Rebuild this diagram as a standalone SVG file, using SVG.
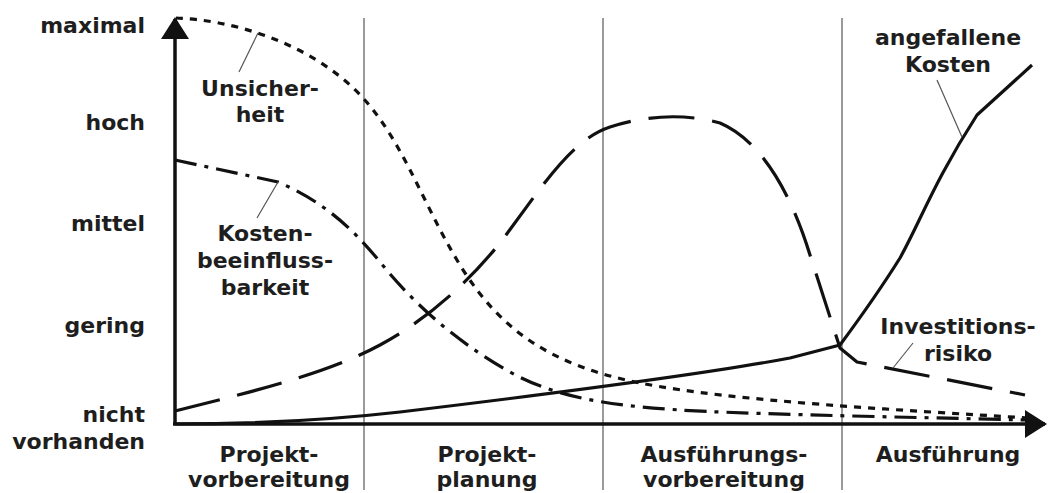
<svg xmlns="http://www.w3.org/2000/svg" width="1050" height="493" viewBox="0 0 1050 493">
  <style>
    text { font-family: "DejaVu Sans", Verdana, sans-serif; font-weight: bold; font-size: 22px; fill: #1e1e1e; }
    .ax { text-anchor: end; }
    .mid { text-anchor: middle; }
    .phase { stroke: #9a9a9a; stroke-width: 2; fill: none; }
    .axis { stroke: #111; stroke-width: 3.5; fill: none; }
    .curve { stroke: #111; stroke-width: 3.2; fill: none; stroke-linecap: butt; stroke-linejoin: round; }
    .dotted { stroke-dasharray: 7 7; }
    .dashdot { stroke-dasharray: 22 8 4 8; }
    .longdash { stroke-dasharray: 46 18; }
    .leader { stroke: #555; stroke-width: 1.2; fill: none; }
  </style>
  <defs>
    <marker id="arrow" viewBox="0 0 22 28" refX="20" refY="14" markerWidth="22" markerHeight="28" markerUnits="userSpaceOnUse" orient="auto">
      <path d="M0,0 L22,14 L0,28 Z" fill="#111"/>
    </marker>
  </defs>

  <rect width="1050" height="493" fill="#fff"/>

  <!-- phase separators -->
  <g id="phase-lines">
    <line class="phase" x1="364" y1="18" x2="364" y2="490"/>
    <line class="phase" x1="603" y1="18" x2="603" y2="490"/>
    <line class="phase" x1="842" y1="18" x2="842" y2="490"/>
  </g>

  <!-- axes -->
  <g id="axes">
    <line class="axis" x1="175" y1="425" x2="175" y2="19" marker-end="url(#arrow)"/>
    <line class="axis" x1="173" y1="424" x2="1045" y2="424" marker-end="url(#arrow)"/>
  </g>

  <!-- level labels -->
  <g id="levels">
    <text class="ax" x="145" y="33">maximal</text>
    <text class="ax" x="145" y="130">hoch</text>
    <text class="ax" x="145" y="231">mittel</text>
    <text class="ax" x="145" y="333">gering</text>
    <text class="ax" x="145" y="422">nicht</text>
    <text class="ax" x="145" y="449">vorhanden</text>
  </g>

  <!-- phase labels -->
  <g id="phases">
    <text class="mid" x="269" y="462">Projekt-</text>
    <text class="mid" x="269" y="487">vorbereitung</text>
    <text class="mid" x="487" y="462">Projekt-</text>
    <text class="mid" x="487" y="487">planung</text>
    <text class="mid" x="724" y="462">Ausführungs-</text>
    <text class="mid" x="724" y="487">vorbereitung</text>
    <text class="mid" x="948" y="462">Ausführung</text>
  </g>

  <!-- curves -->
  <g id="connectors">
    <path id="unsicherheit" class="curve dotted" d="M176,18 C230,20 300,40 350,85 C400,130 420,200 460,265 C500,330 550,365 640,383 C730,401 900,410 1028,418"/>
    <path id="kostenbeeinflussbarkeit" class="curve dashdot" d="M175,160 L278,182 C320,200 350,225 380,262 C410,299 450,338 510,372 C560,400 620,406 680,410 C740,414 900,417 1025,420"/>
    <path id="investitionsrisiko" class="curve longdash" d="M175,411 C260,390 330,372 380,345 C430,318 470,280 500,243 C540,190 570,140 610,127 C640,117 680,112 720,123 C760,140 790,190 810,255 L840,348 L857,362 L1025,395"/>
    <path id="angefallene-kosten" class="curve" d="M175,424 C260,424 330,420 400,412 C500,400 700,375 790,358 L840,345 C860,318 880,290 900,258 C920,222 935,180 977,115 L1032,65"/>
  </g>

  <!-- curve labels with leaders -->
  <g id="label-unsicherheit">
    <line class="leader" x1="239" y1="72" x2="258" y2="33"/>
    <text class="mid" x="260" y="96">Unsicher-</text>
    <text class="mid" x="260" y="122">heit</text>
  </g>
  <g id="label-kostenbeeinflussbarkeit">
    <line class="leader" x1="257" y1="218" x2="278" y2="182"/>
    <text class="mid" x="265" y="241">Kosten-</text>
    <text class="mid" x="265" y="268">beeinfluss-</text>
    <text class="mid" x="265" y="295">barkeit</text>
  </g>
  <g id="label-angefallene-kosten">
    <line class="leader" x1="937" y1="80" x2="962" y2="137"/>
    <text class="mid" x="948" y="45">angefallene</text>
    <text class="mid" x="948" y="72">Kosten</text>
  </g>
  <g id="label-investitionsrisiko">
    <line class="leader" x1="913" y1="343" x2="893" y2="368"/>
    <text class="mid" x="958" y="334">Investitions-</text>
    <text class="mid" x="958" y="361">risiko</text>
  </g>
</svg>
